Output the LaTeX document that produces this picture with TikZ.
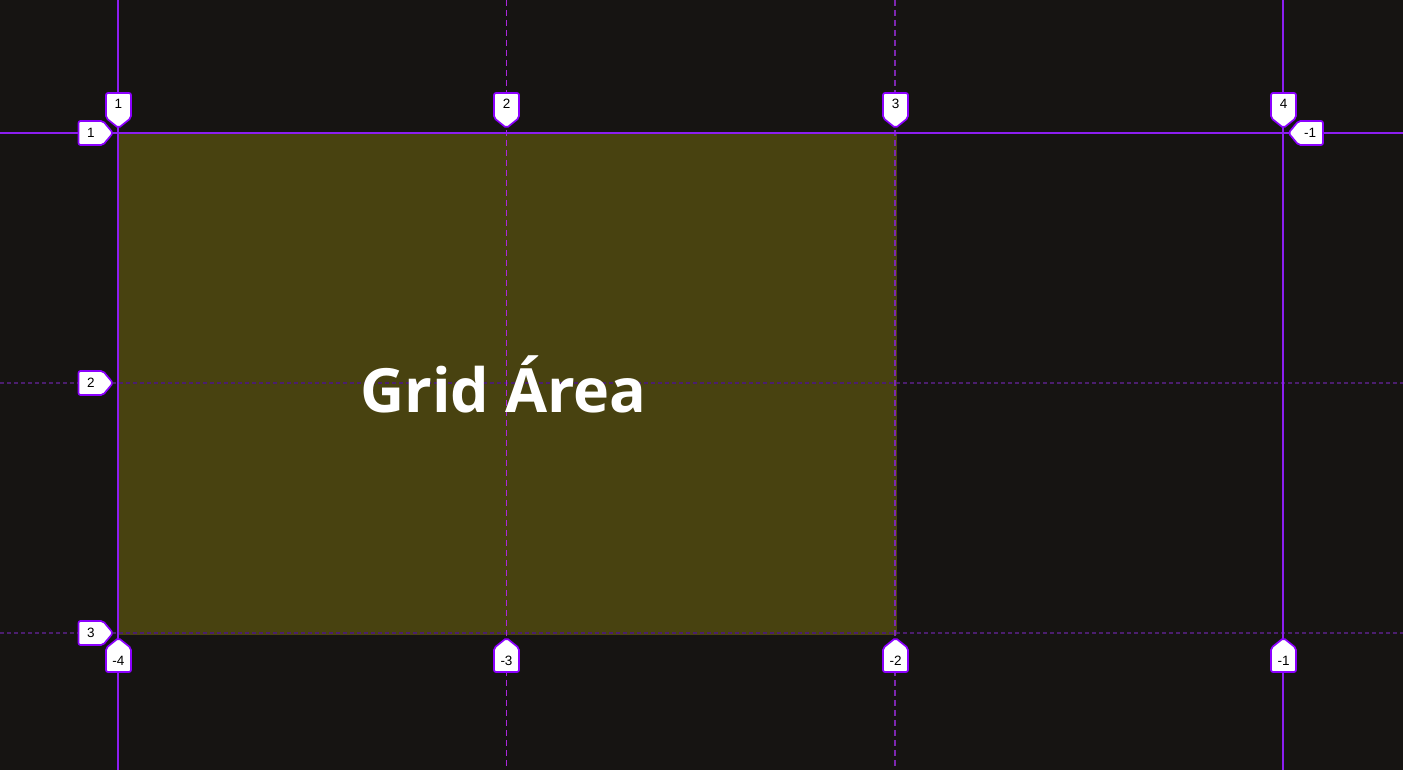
\documentclass[tikz,border=0pt]{standalone}
\usepackage{fontspec}
\setmainfont{Liberation Sans}
\newfontfamily\bigfont{Open Sans}
\definecolor{bgc}{RGB}{22,20,18}
\definecolor{areac}{RGB}{72,66,16}
\definecolor{solidl}{RGB}{140,30,240}
\definecolor{dashv}{RGB}{170,40,220}
\definecolor{dashvb}{RGB}{125,40,175}
\definecolor{dashh}{RGB}{75,30,110}
\definecolor{lblborder}{RGB}{140,0,255}
\tikzset{
  solidline/.style={draw=solidl, line width=1.6pt},
  dashvline/.style={draw=dashv, line width=1.5pt, dash pattern=on 6pt off 4pt},
  dashvlineb/.style={draw=dashvb, line width=1.6pt, dash pattern=on 6pt off 4pt},
  dashhline/.style={draw=dashh, line width=1.2pt, dash pattern=on 4pt off 3pt},
  lbl/.style={draw=lblborder, fill=white, line width=1.7pt, rounded corners=2pt, line join=round},
  lbltext/.style={inner sep=0pt, font=\fontsize{13.5}{13.5}\selectfont, text=black},
}
\newcommand\Tlab[3]{%
  \draw[lbl] (#1,128) -- ({#1-12.5},118) -- ({#1-12.5},93) -- ({#1+12.5},93) -- ({#1+12.5},118) -- cycle;
  \node[lbltext] (#3) at (#1,104) {#2};}
\newcommand\Blab[3]{%
  \draw[lbl] (#1,638) -- ({#1-12.5},648) -- ({#1-12.5},672) -- ({#1+12.5},672) -- ({#1+12.5},648) -- cycle;
  \node[lbltext] (#3) at (#1,661) {#2};}
\newcommand\Llab[3]{%
  \draw[lbl] (113,#1) -- (103,{#1-12}) -- (78.5,{#1-12}) -- (78.5,{#1+12}) -- (103,{#1+12}) -- cycle;
  \node[lbltext] (#3) at (91,#1) {#2};}
\newcommand\Rlab[3]{%
  \draw[lbl] (1288.5,#1) -- (1298.5,{#1-12}) -- (1323,{#1-12}) -- (1323,{#1+12}) -- (1298.5,{#1+12}) -- cycle;
  \node[lbltext] (#3) at (1310,#1) {#2};}
\begin{document}
\begin{tikzpicture}[x=1pt,y=-1pt]
\useasboundingbox (0,0) rectangle (1403,770);
\fill[bgc] (0,0) rectangle (1403,770);
\fill[areac] (118,133) rectangle (897,635);
% grid lines
\draw[dashhline] (0,383) -- (1403,383);
\draw[dashhline] (0,633) -- (1403,633);
\draw[dashvline] (506.5,0) -- (506.5,770);
\draw[dashvlineb] (895,0) -- (895,770);
\draw[solidline] (118,0) -- (118,770);
\draw[solidline] (1283,0) -- (1283,770);
\draw[solidline] (0,133) -- (1403,133);
% title
\node[anchor=base, inner sep=0pt, text=white, font=\bigfont\bfseries\fontsize{61}{61}\selectfont] (title) at (503.5,412) {Grid Área};
% labels
\Tlab{118.5}{1}{t1}
\Tlab{506.5}{2}{t2}
\Tlab{895.5}{3}{t3}
\Tlab{1283.5}{4}{t4}
\Blab{118.5}{-4}{b4}
\Blab{506.5}{-3}{b3}
\Blab{895.5}{-2}{b2}
\Blab{1283.5}{-1}{b1}
\Llab{133}{1}{l1}
\Llab{383}{2}{l2}
\Llab{633}{3}{l3}
\Rlab{133}{-1}{r1}
\end{tikzpicture}
\end{document}
